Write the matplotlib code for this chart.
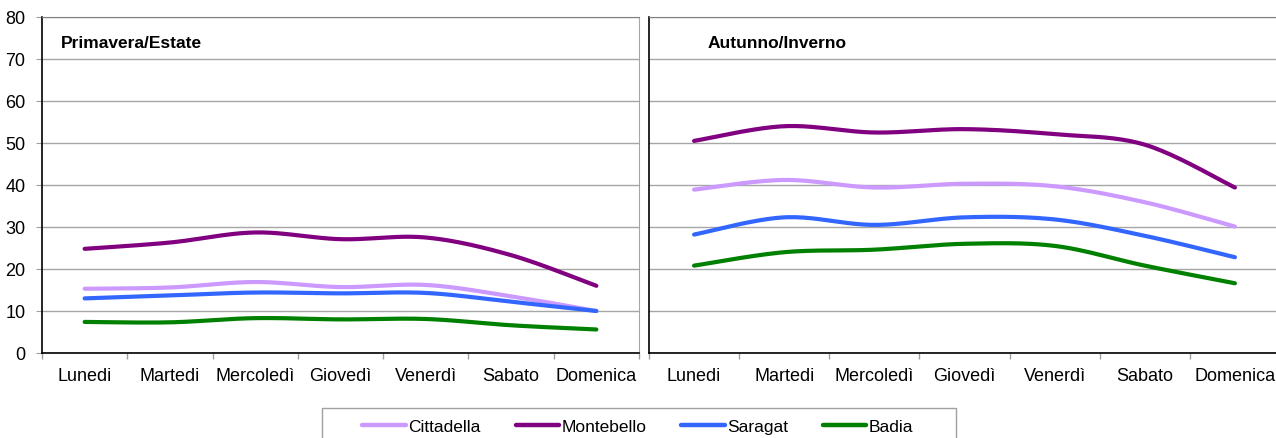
import numpy as np
import matplotlib
matplotlib.use("Agg")
import matplotlib.pyplot as plt
from matplotlib.patches import Rectangle
from matplotlib.lines import Line2D

plt.rcParams["font.family"] = ["Liberation Sans", "DejaVu Sans"]

days = ["Lunedi", "Martedi", "Mercoledì", "Giovedì", "Venerdì", "Sabato", "Domenica"]

# Primavera/Estate
pe_cittadella = [15.3, 15.6, 16.9, 15.7, 16.2, 13.5, 10.0]
pe_montebello = [24.8, 26.3, 28.7, 27.1, 27.5, 23.3, 16.0]
pe_saragat = [13.0, 13.7, 14.4, 14.2, 14.3, 12.2, 10.0]
pe_badia = [7.4, 7.3, 8.3, 8.0, 8.1, 6.6, 5.6]

# Autunno/Inverno
ai_cittadella = [38.9, 41.2, 39.4, 40.3, 39.7, 35.9, 30.1]
ai_montebello = [50.5, 54.0, 52.5, 53.3, 52.1, 49.6, 39.4]
ai_saragat = [28.2, 32.3, 30.5, 32.3, 31.8, 27.9, 22.8]
ai_badia = [20.8, 24.0, 24.6, 26.0, 25.5, 20.8, 16.6]

NAMES = ["Cittadella", "Montebello", "Saragat", "Badia"]
COLORS = ["#CC99FF", "#800080", "#3366FF", "#008000"]


def smooth(ys, steps=24):
    """Excel-like smoothed line: cubic Bezier with Catmull-Rom control points."""
    pts = np.column_stack([np.arange(len(ys), dtype=float), np.asarray(ys, float)])
    out = [pts[0]]
    t = np.linspace(0, 1, steps)[1:, None]
    for i in range(len(pts) - 1):
        p0 = pts[max(i - 1, 0)]
        p1, p2 = pts[i], pts[i + 1]
        p3 = pts[min(i + 2, len(pts) - 1)]
        c1 = p1 + (p2 - p0) / 6
        c2 = p2 - (p3 - p1) / 6
        seg = ((1 - t) ** 3) * p1 + 3 * ((1 - t) ** 2) * t * c1 + 3 * (1 - t) * t ** 2 * c2 + t ** 3 * p2
        out.extend(seg)
    out = np.array(out)
    return out[:, 0], out[:, 1]


W, H = 1276, 439
fig = plt.figure(figsize=(W / 100, H / 100), dpi=100)


def panel(x0, x1, series, title, tx, show_y):
    ax = fig.add_axes([x0 / W, (H - 354) / H, (x1 - x0) / W, 336 / H])
    for ys, c in zip(series, COLORS):
        xs, yy = smooth(ys)
        ax.plot(xs, yy, color=c, lw=3.0, solid_capstyle="round", zorder=3)
    ax.set_xlim(-0.5, 6.5)
    ax.set_ylim(0, 80)
    ax.set_yticks(range(0, 81, 10))
    ax.set_xticks(range(len(days)))
    ax.set_xticklabels(days)
    ax.set_xticks(np.arange(-0.5, 7, 1), minor=True)
    ax.tick_params(axis="x", which="major", length=0, pad=10, labelsize=13)
    ax.tick_params(axis="x", which="minor", length=4, color="#A0A0A0", width=1)
    ax.grid(axis="y", color="#A6A6A6", lw=1)
    ax.set_axisbelow(True)
    if show_y:
        ax.tick_params(axis="y", length=4, color="#A0A0A0", pad=8, labelsize=13)
    else:
        ax.tick_params(axis="y", length=0, labelleft=False)
    for s in ("left", "bottom"):
        ax.spines[s].set_color("black")
        ax.spines[s].set_linewidth(1.2)
    ax.spines["top"].set_color("#808080")
    ax.spines["right"].set_color("#A6A6A6")
    ax.text(tx, 0.925, title, transform=ax.transAxes, fontsize=12.5,
            fontweight="bold", ha="left", va="center")
    return ax


panel(42, 639, [pe_cittadella, pe_montebello, pe_saragat, pe_badia], "Primavera/Estate", 0.032, True)
panel(649, 1280, [ai_cittadella, ai_montebello, ai_saragat, ai_badia], "Autunno/Inverno", 0.093, False)

fig.patches.append(Rectangle((322 / W, -0.05), (956 - 322) / W, 0.05 + (H - 409) / H,
                             transform=fig.transFigure, fill=False, edgecolor="#A0A0A0", lw=1))
handles = [Line2D([], [], color=c, lw=3.2, solid_capstyle="round") for c in COLORS]
fig.legend(handles, NAMES, loc="center", bbox_to_anchor=(638 / W, 1 - 427 / H), ncol=4,
           frameon=False, fontsize=12.5, handlelength=2.5, handletextpad=0.15, columnspacing=2.0)

fig.savefig("out.png", dpi=100)
